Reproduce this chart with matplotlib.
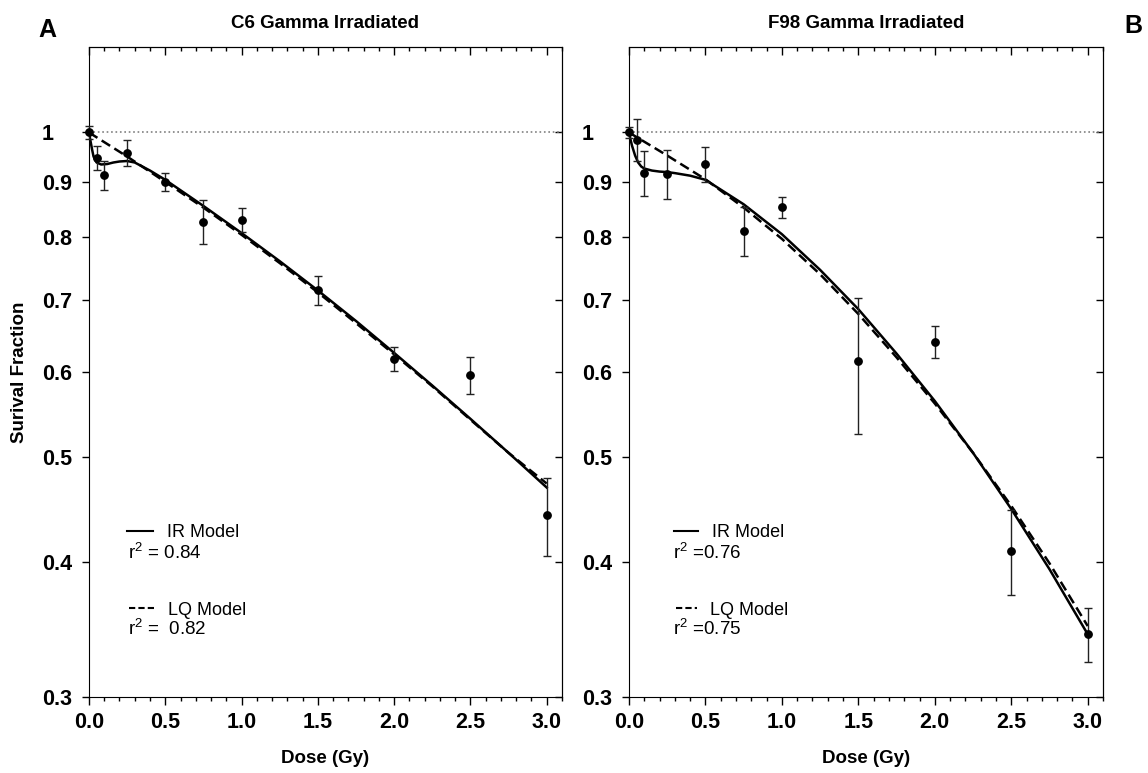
import matplotlib
matplotlib.use("Agg")
import matplotlib.pyplot as plt
from matplotlib.ticker import FixedLocator, MultipleLocator, NullLocator

plt.rcParams['font.family'] = ['Liberation Sans', 'DejaVu Sans']
plt.rcParams['mathtext.fontset'] = 'custom'
plt.rcParams['mathtext.rm'] = 'Liberation Sans'

# Datos C6 (panel A)
c6_dose = [0, 0.05, 0.1, 0.25, 0.5, 0.75, 1.0, 1.5, 2.0, 2.5, 3.0]
c6_sf = [1.0, 0.948, 0.913, 0.958, 0.900, 0.827, 0.830, 0.714, 0.617, 0.596, 0.442]
c6_err = [0.013, 0.024, 0.028, 0.027, 0.018, 0.038, 0.022, 0.022, 0.016, 0.023, 0.037]

c6_ir_dose = [0, 0.01, 0.02, 0.03, 0.05, 0.08, 0.12, 0.16, 0.2, 0.25, 0.3, 0.4, 0.5,
              0.75, 1.0, 1.25, 1.5, 1.75, 2.0, 2.25, 2.5, 2.75, 3.0]
c6_ir_sf = [1.0, 0.982, 0.965, 0.950, 0.938, 0.934, 0.935, 0.938, 0.940, 0.941, 0.938,
            0.922, 0.904, 0.855, 0.807, 0.760, 0.714, 0.669, 0.625, 0.583, 0.543, 0.505, 0.469]
c6_lq_dose = [0, 0.25, 0.5, 0.75, 1.0, 1.25, 1.5, 1.75, 2.0, 2.25, 2.5, 2.75, 3.0]
c6_lq_sf = [1.0, 0.950, 0.900, 0.852, 0.804, 0.757, 0.711, 0.666, 0.623, 0.582, 0.542, 0.505, 0.473]

# Datos F98 (panel B)
f98_dose = [0, 0.05, 0.1, 0.25, 0.5, 0.75, 1.0, 1.5, 2.0, 2.5, 3.0]
f98_sf = [1.0, 0.985, 0.918, 0.915, 0.935, 0.811, 0.853, 0.614, 0.640, 0.410, 0.343]
f98_err = [0.012, 0.045, 0.044, 0.048, 0.035, 0.042, 0.019, 0.088, 0.022, 0.037, 0.020]

f98_ir_dose = [0, 0.01, 0.02, 0.04, 0.06, 0.08, 0.1, 0.15, 0.2, 0.25, 0.3, 0.4, 0.5,
               0.75, 1.0, 1.25, 1.5, 1.75, 2.0, 2.25, 2.5, 2.75, 3.0]
f98_ir_sf = [1.0, 0.985, 0.972, 0.952, 0.938, 0.930, 0.926, 0.922, 0.920, 0.919, 0.917,
             0.912, 0.904, 0.858, 0.805, 0.746, 0.686, 0.624, 0.564, 0.505, 0.448, 0.394, 0.343]
f98_lq_dose = [0, 0.25, 0.5, 0.75, 1.0, 1.25, 1.5, 1.75, 2.0, 2.25, 2.5, 2.75, 3.0]
f98_lq_sf = [1.0, 0.952, 0.905, 0.852, 0.797, 0.739, 0.679, 0.619, 0.561, 0.505, 0.451, 0.399, 0.349]

y_ticks = [0.3, 0.4, 0.5, 0.6, 0.7, 0.8, 0.9, 1.0]
y_labels = ['0.3', '0.4', '0.5', '0.6', '0.7', '0.8', '0.9', '1']
x_ticks = [0.0, 0.5, 1.0, 1.5, 2.0, 2.5, 3.0]


def dibujar_panel(ax, titulo, dose, sf, err, ir_d, ir_s, lq_d, lq_s, textos):
    ax.axhline(1.0, color='gray', ls=':', lw=1.2, zorder=1)
    ax.plot(ir_d, ir_s, color='black', lw=1.8, zorder=3)
    ax.plot(lq_d, lq_s, color='black', lw=1.8, ls=(0, (4, 2)), zorder=3)
    ax.errorbar(dose, sf, yerr=err, fmt='o', color='black', ecolor='#222222',
                markersize=5.3, elinewidth=1, capsize=3, capthick=1, zorder=4,
                clip_on=False)

    ax.set_yscale('log')
    ax.set_xlim(0, 3.1)
    ax.set_ylim(0.3, 1.2)
    ax.yaxis.set_major_locator(FixedLocator(y_ticks))
    ax.yaxis.set_minor_locator(NullLocator())
    ax.set_yticklabels(y_labels)
    ax.set_xticks(x_ticks)
    ax.set_xticklabels(['%.1f' % t for t in x_ticks])
    ax.xaxis.set_minor_locator(MultipleLocator(0.1))

    ax.tick_params(axis='x', which='major', direction='out', length=6, width=1,
                   labelsize=15.5, pad=5)
    ax.tick_params(axis='x', which='minor', direction='out', length=3, width=1)
    ax.tick_params(axis='y', which='major', direction='out', length=5, width=1,
                   labelsize=15.5, pad=29)
    for lab in ax.get_yticklabels():
        lab.set_horizontalalignment('left')
    for lab in ax.get_xticklabels() + ax.get_yticklabels():
        lab.set_fontweight('bold')

    # ticks interiores arriba y a la derecha
    sec_x = ax.secondary_xaxis('top')
    sec_x.set_xticks(x_ticks)
    sec_x.xaxis.set_minor_locator(MultipleLocator(0.1))
    sec_x.tick_params(which='major', direction='in', length=6, width=1, labeltop=False)
    sec_x.tick_params(which='minor', direction='in', length=3, width=1)
    sec_y = ax.secondary_yaxis('right')
    sec_y.set_yscale('log')
    sec_y.yaxis.set_major_locator(FixedLocator(y_ticks))
    sec_y.yaxis.set_minor_locator(NullLocator())
    sec_y.tick_params(direction='in', length=5, width=1, labelright=False)

    ax.set_title(titulo, fontsize=13.5, fontweight='bold', pad=14)
    ax.set_xlabel('Dose (Gy)', fontsize=13.5, fontweight='bold', labelpad=12)

    # leyenda dibujada a mano
    (ir_x0, ir_x1, lq_x0, lq_x1, ir_tx, lq_tx, r_x, r_ir, r_lq) = textos
    ax.plot([ir_x0, ir_x1], [0.256, 0.256], transform=ax.transAxes, color='black', lw=1.5)
    ax.plot([lq_x0, lq_x1], [0.137, 0.137], transform=ax.transAxes, color='black', lw=1.5,
            ls=(0, (3, 1.5)))
    ax.text(ir_tx, 0.2466, 'IR Model', transform=ax.transAxes, fontsize=13, va='baseline')
    ax.text(lq_tx, 0.126, 'LQ Model', transform=ax.transAxes, fontsize=13, va='baseline')
    ax.text(r_x, 0.2123, r_ir, transform=ax.transAxes, fontsize=13.5, va='baseline')
    ax.text(r_x, 0.0954, r_lq, transform=ax.transAxes, fontsize=13.5, va='baseline')


fig = plt.figure(figsize=(11.48, 7.73), dpi=100)
ax1 = fig.add_axes([0.0775, 0.0983, 0.412, 0.8409])
ax2 = fig.add_axes([0.5479, 0.0983, 0.4129, 0.8409])

dibujar_panel(ax1, 'C6 Gamma Irradiated', c6_dose, c6_sf, c6_err,
              c6_ir_dose, c6_ir_sf, c6_lq_dose, c6_lq_sf,
              (0.080, 0.135, 0.084, 0.139, 0.165, 0.167, 0.083,
               r'r$^{\mathregular{2}}$ = 0.84', r'r$^{\mathregular{2}}$ =  0.82'))
dibujar_panel(ax2, 'F98 Gamma Irradiated', f98_dose, f98_sf, f98_err,
              f98_ir_dose, f98_ir_sf, f98_lq_dose, f98_lq_sf,
              (0.095, 0.146, 0.099, 0.144, 0.176, 0.171, 0.093,
               r'r$^{\mathregular{2}}$ =0.76', r'r$^{\mathregular{2}}$ =0.75'))

ax1.set_ylabel('Surival Fraction', fontsize=13.5, fontweight='bold')
ax1.yaxis.set_label_coords(-0.129, 0.5)

fig.text(0.041, 0.961, 'A', fontsize=18, fontweight='bold', ha='center', va='center')
fig.text(0.987, 0.966, 'B', fontsize=18, fontweight='bold', ha='center', va='center')

fig.savefig('out.png', dpi=100)
